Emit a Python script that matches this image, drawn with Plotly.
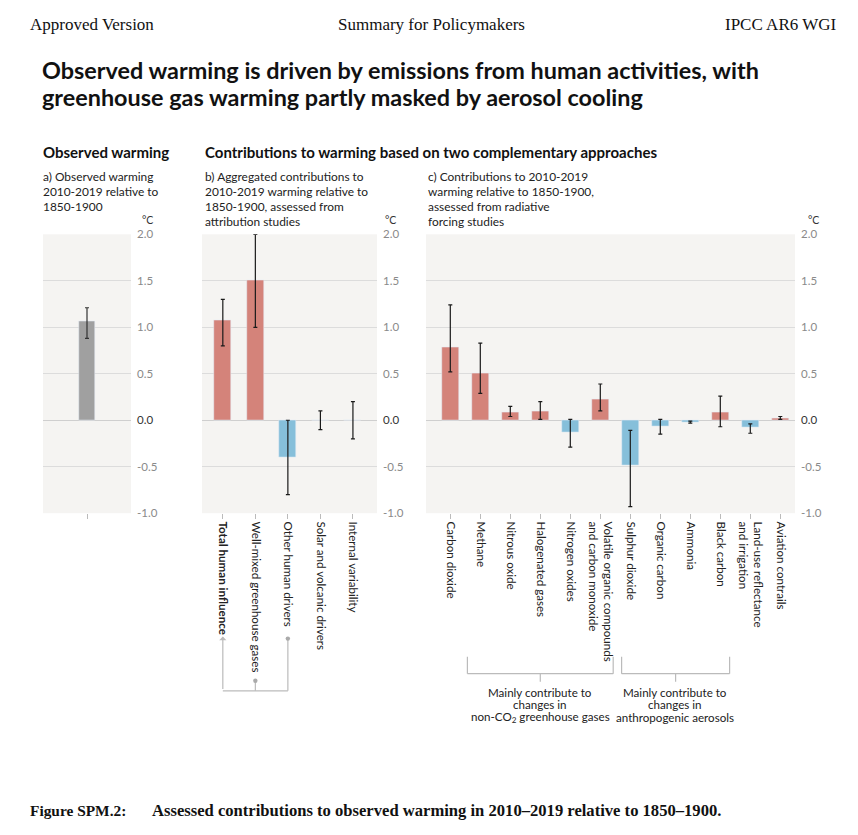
import plotly.graph_objects as go

# the page has an 8px body margin, so the figure is a bit smaller than the window
W, H = 842, 819
OFF_X = 8
# vertical placement as it comes out in the screenshot
TOP_Y, SPAN_Y = 15.4, 803.4

# a) observed warming
obs_labels = ["Observed warming"]
obs_val = [1.06]
obs_hi = [1.21]
obs_lo = [0.88]

# b) aggregated contributions, attribution studies
agg_labels = ["<b>Total human influence</b>", "Well-mixed greenhouse gases",
              "Other human drivers", "Solar and volcanic drivers", "Internal variability"]
agg_val = [1.07, 1.50, -0.40, 0.00, 0.00]
agg_hi = [1.30, 2.00, 0.00, 0.10, 0.20]
agg_lo = [0.80, 1.00, -0.80, -0.10, -0.20]

# c) contributions from radiative forcing studies
rf_labels = ["Carbon dioxide", "Methane", "Nitrous oxide", "Halogenated gases",
             "Nitrogen oxides", "Volatile organic compounds<br>and carbon monoxide",
             "Sulphur dioxide", "Organic carbon", "Ammonia", "Black carbon",
             "Land-use reflectance<br>and irrigation", "Aviation contrails"]
rf_val = [0.78, 0.51, 0.09, 0.10, -0.13, 0.22, -0.48, -0.07, -0.02, 0.09, -0.08, 0.025]
rf_hi = [1.24, 0.83, 0.15, 0.20, 0.01, 0.39, -0.11, 0.01, -0.01, 0.26, -0.04, 0.04]
rf_lo = [0.52, 0.29, 0.04, 0.01, -0.29, 0.10, -0.93, -0.15, -0.03, -0.07, -0.14, 0.01]

y_ticks = [-1.0, -0.5, 0.0, 0.5, 1.0, 1.5, 2.0]

RED = "#d4837a"
BLUE = "#86bfda"
GREY = "#a0a0a0"
FONT = "Lato"


def px(x):
    return (x - OFF_X) / W


def py(y):
    return 1 - (y - TOP_Y) / SPAN_Y


def err(val, hi, lo, color="#1a1a1a"):
    return dict(type="data", symmetric=False,
                array=[h - v for v, h in zip(val, hi)],
                arrayminus=[v - l for v, l in zip(val, lo)],
                color=color, thickness=1.2, width=2)


def colors(vals):
    return [RED if v >= 0 else BLUE for v in vals]


fig = go.Figure()
fig.add_trace(go.Bar(x=obs_labels, y=obs_val, width=0.19, marker_color=GREY,
                     error_y=err(obs_val, obs_hi, obs_lo, "#333333"),
                     xaxis="x", yaxis="y"))
fig.add_trace(go.Bar(x=agg_labels, y=agg_val, width=0.52, marker_color=colors(agg_val),
                     error_y=err(agg_val, agg_hi, agg_lo),
                     xaxis="x2", yaxis="y2"))
fig.add_trace(go.Bar(x=rf_labels, y=rf_val, width=0.57, marker_color=colors(rf_val),
                     error_y=err(rf_val, rf_hi, rf_lo),
                     xaxis="x3", yaxis="y3"))

tick_text = [f"{t:.1f}" if t != 0 else "<span style='color:#333333'>0.0</span>"
             for t in y_ticks]

ydom = [py(512), py(234)]
yax = dict(range=[-1, 2], tickvals=y_ticks, ticktext=tick_text, side="right",
           gridcolor="#dcdcdc", gridwidth=1, zeroline=True, zerolinecolor="#cfcfcf",
           zerolinewidth=1, showline=False, ticks="", ticklabelstandoff=5,
           tickfont=dict(family=FONT, size=11.5, color="#8a8a8a"), domain=ydom)
xax = dict(type="category", showgrid=False, zeroline=False, showline=False,
           ticks="outside", ticklen=5, tickcolor="#bbbbbb", tickwidth=1,
           tickangle=90, tickfont=dict(family=FONT, size=11.6, color="#222222"))

fig.update_layout(
    width=W, height=H, showlegend=False, bargap=0,
    margin=dict(l=0, r=0, t=0, b=0),
    paper_bgcolor="white", plot_bgcolor="#f5f4f2",
    font=dict(family=FONT, size=11.5, color="#222222"),
    xaxis=dict(xax, domain=[px(43), px(131)], anchor="y", range=[-0.5, 0.5],
               showticklabels=False),
    yaxis=dict(yax, anchor="x"),
    xaxis2=dict(xax, domain=[px(202), px(377)], anchor="y2", range=[-0.64, 4.74]),
    yaxis2=dict(yax, anchor="x2"),
    xaxis3=dict(xax, domain=[px(426), px(795)], anchor="y3", range=[-0.81, 11.49]),
    yaxis3=dict(yax, anchor="x3"),
)

ann = []


def text(x, y, s, size=11.5, xanchor="left", yanchor="middle", family=FONT,
         color="#222222", align="left", xref="paper"):
    ann.append(dict(x=x, y=y, xref=xref, yref="paper", text=s, showarrow=False,
                    xanchor=xanchor, yanchor=yanchor, align=align,
                    font=dict(family=family, size=size, color=color)))


def lines(x, ys, rows, size, xanchor="left", xref="paper"):
    # one annotation per row so the line spacing follows the reference
    for y, row in zip(ys, rows):
        text(x, py(y), row, size, xanchor, xref=xref)


serif = "Liberation Serif"
text(px(28), py(25), "Approved Version", 17, family=serif, color="#111")
text(px(431), py(25), "Summary for Policymakers", 17, "center", family=serif, color="#111")
text(px(838), py(25), "IPCC AR6 WGI", 17, "right", family=serif, color="#111")

text(px(40), py(70), "<b>Observed warming is driven by emissions from human activities, with</b>",
     23.4, color="#111")
text(px(40), py(97), "<b>greenhouse gas warming partly masked by aerosol cooling</b>",
     23.4, color="#111")

text(px(41), py(152), "<b>Observed warming</b>", 15, color="#111")
text(px(203), py(152), "<b>Contributions to warming based on two complementary approaches</b>",
     15, color="#111")

sub_y = [176, 191, 206, 221]
lines(px(41), sub_y, ["a) Observed warming", "2010-2019 relative to", "1850-1900"], 11.9)
lines(px(203), sub_y, ["b) Aggregated contributions to", "2010-2019 warming relative to",
                       "1850-1900, assessed from", "attribution studies"], 11.9)
lines(px(426), sub_y, ["c) Contributions to 2010-2019", "warming relative to 1850-1900,",
                       "assessed from radiative", "forcing studies"], 11.9)

for cx in (147, 390, 813):
    text(px(cx), py(220), "°C", 10.5, "center", color="#333")

brace_y = [690.5, 702.5, 715.5]
lines(3.0, brace_y, ["Mainly contribute to", "changes in",
                     "non-CO<sub>2</sub> greenhouse gases"], 11.6, "center", "x3")
lines(7.5, brace_y, ["Mainly contribute to", "changes in",
                     "anthropogenic aerosols"], 11.6, "center", "x3")

text(px(28), py(808), "<b>Figure SPM.2:</b>", 15.4, family=serif, color="#111")
text(px(150), py(808), "<b>Assessed contributions to observed warming in 2010\u20132019 "
     "relative to 1850\u20131900.</b>", 16.6, family=serif, color="#111")

# arrow pointing up to "Total human influence"
ann.append(dict(x=0, y=py(635), xref="x2", yref="paper", ax=0, ay=54,
                axref="pixel", ayref="pixel", showarrow=True, arrowhead=1,
                arrowsize=1, arrowwidth=1.2, arrowcolor="#bbbbbb", text=""))
fig.update_layout(annotations=ann)

LC = dict(color="#bbbbbb", width=1.2)
shapes = [
    dict(type="line", xref="x2", yref="paper", x0=0, x1=2, y0=py(689), y1=py(689), line=LC),
    dict(type="line", xref="x2", yref="paper", x0=1, x1=1, y0=py(679), y1=py(689), line=LC),
    dict(type="line", xref="x2", yref="paper", x0=2, x1=2, y0=py(637), y1=py(689), line=LC),
]
for cx, cy in ((1, 679), (2, 637)):
    shapes.append(dict(type="circle", xref="x2", yref="paper", xsizemode="pixel",
                       ysizemode="pixel", xanchor=cx, yanchor=py(cy),
                       x0=-2.2, x1=2.2, y0=-2.2, y1=2.2,
                       fillcolor="#aaaaaa", line=dict(width=0)))

# braces under panel c
for left, right in ((0.57, 5.43), (5.71, 9.31)):
    mid = (left + right) / 2
    for seg in ((left, left, 655, 672), (right, right, 655, 672),
                (left, right, 672, 672), (mid, mid, 672, 680)):
        shapes.append(dict(type="line", xref="x3", yref="paper",
                           x0=seg[0], x1=seg[1], y0=py(seg[2]), y1=py(seg[3]), line=LC))
fig.update_layout(shapes=shapes)

fig.write_html("out.html")
